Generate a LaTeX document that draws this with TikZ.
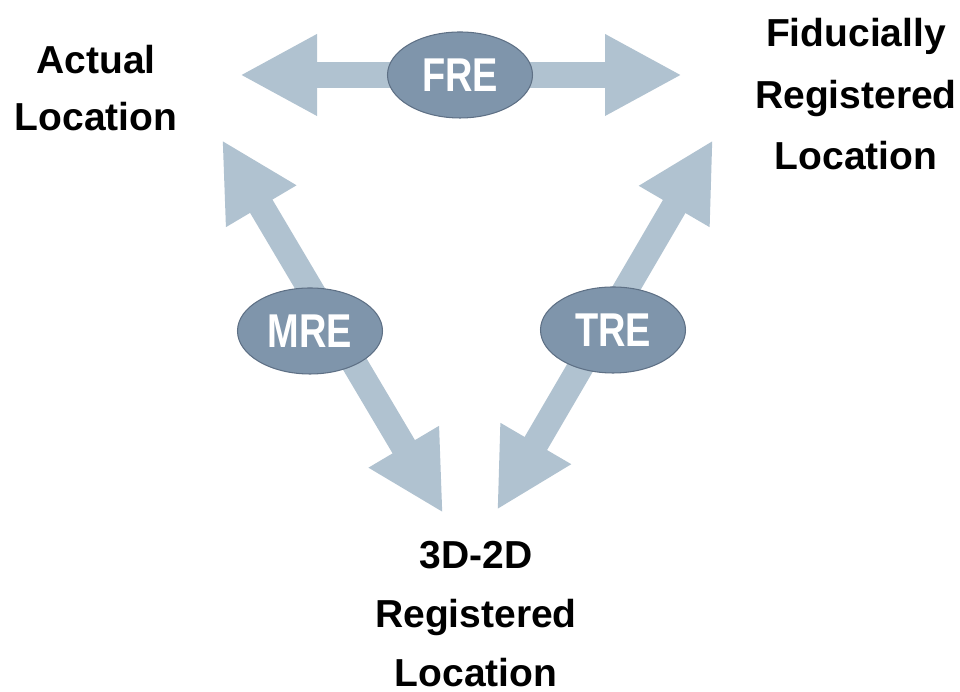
\documentclass[tikz,border=0pt]{standalone}
\usepackage{fontspec}
\setmainfont{Liberation Sans}
\newfontfamily\narrowsf[FakeStretch=0.8]{Liberation Sans}
\usetikzlibrary{arrows.meta, shapes.geometric}
\definecolor{arrowgrey}{HTML}{B0C2D0}
\definecolor{errfill}{HTML}{7F95AB}
\definecolor{errdraw}{HTML}{5E7085}

\begin{document}
\begin{tikzpicture}[
  loc/.style={align=center, anchor=north, inner sep=0pt,
              font=\bfseries\fontsize{22.2}{#1}\selectfont},
  err/.style={ellipse, draw=errdraw, fill=errfill, line width=0.6pt,
              minimum width=2.9cm, minimum height=1.72cm, inner sep=0pt,
              text=white, font=\narrowsf\bfseries\fontsize{27}{30}\selectfont},
  dblarrow/.style={draw=arrowgrey, line width=0.52cm,
              {Triangle[length=1.54cm,width=1.52cm]}-{Triangle[length=1.54cm,width=1.52cm]}},
]
\useasboundingbox (0,0) rectangle (19.2,13.84);

%% Arrow ends
\coordinate (fre-l) at (4.8,12.34);
\coordinate (fre-r) at (13.64,12.34);
\coordinate (mre-t) at (4.44,11.04);
\coordinate (mre-b) at (8.86,3.58);
\coordinate (tre-t) at (14.26,11.04);
\coordinate (tre-b) at (9.94,3.64);

%% Double arrows between the locations
\draw[dblarrow] (fre-l) -- (fre-r);
\draw[dblarrow] (mre-t) -- (mre-b);
\draw[dblarrow] (tre-t) -- (tre-b);

%% Error measures
\node[err] (fre) at (9.2,12.34) {FRE};
\node[err] (mre) at (6.2,7.22) {MRE};
\node[err] (tre) at (12.26,7.24) {TRE};

%% Locations
\node[loc=32.4pt] (actual) at (1.92,12.94) {Actual\\Location};
\node[loc=35pt] (fiducial) at (17.12,13.48) {Fiducially\\Registered\\Location};
\node[loc=33.5pt] (reg3d2d) at (9.52,3.02) {3D-2D\\Registered\\Location};
\end{tikzpicture}
\end{document}
